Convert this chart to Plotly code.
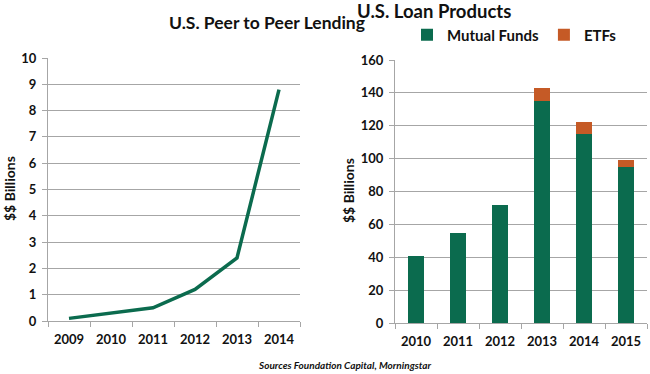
import plotly.graph_objects as go

# Left chart data
p2p_years = ["2009", "2010", "2011", "2012", "2013", "2014"]
p2p_values = [0.1, 0.3, 0.5, 1.2, 2.4, 8.8]

# Right chart data
loan_years = ["2010", "2011", "2012", "2013", "2014", "2015"]
mutual_funds = [41, 55, 72, 135, 115, 95]
etfs = [None, None, None, 8, 7, 4]

GREEN = "#0B6B4E"
ORANGE = "#C55A26"
GRID = "#A6A6A6"
FONT = "Lato"
W, H = 650, 374

def px_x(x):
    return x / W

def px_y(y):
    return 1 - y / H

fig = go.Figure()

fig.add_trace(go.Scatter(
    x=p2p_years, y=p2p_values, mode="lines",
    line=dict(color=GREEN, width=3.5),
    xaxis="x", yaxis="y", showlegend=False,
))

fig.add_trace(go.Bar(
    x=loan_years, y=mutual_funds, name="Mutual Funds",
    marker=dict(color=GREEN, line=dict(width=0)),
    xaxis="x2", yaxis="y2", width=0.4,
))
fig.add_trace(go.Bar(
    x=loan_years, y=etfs, name="ETFs",
    marker=dict(color=ORANGE, line=dict(width=0)),
    xaxis="x2", yaxis="y2", width=0.4,
))

tickfont = dict(family=FONT, size=13, color="#111", weight="bold")

common_x = dict(
    type="category", showgrid=False, showline=True, linecolor=GRID, linewidth=1,
    ticks="outside", tickson="boundaries", ticklen=5, tickcolor=GRID,
    tickfont=tickfont, range=[-0.5, 5.5], fixedrange=True, automargin=False,
    ticklabelstandoff=6,
)
common_y = dict(
    showgrid=True, gridcolor=GRID, gridwidth=1, showline=True, linecolor=GRID,
    linewidth=1, ticks="outside", ticklen=5, tickcolor=GRID, tickfont=tickfont,
    zeroline=False, automargin=False, ticklabelstandoff=3, fixedrange=True,
)

fig.update_layout(
    width=W, height=H, margin=dict(l=0, r=0, t=0, b=0, autoexpand=False),
    paper_bgcolor="white", plot_bgcolor="white",
    barmode="stack",
    font=dict(family=FONT, color="#111"),
    xaxis=dict(domain=[px_x(48), px_x(300)], anchor="y", **common_x),
    yaxis=dict(domain=[px_y(321), px_y(58)], anchor="x", range=[0, 10], dtick=1, **common_y),
    xaxis2=dict(domain=[px_x(395), px_x(647)], anchor="y2", **common_x),
    yaxis2=dict(domain=[px_y(323), px_y(60)], anchor="x2", range=[0, 160], dtick=20, **common_y),
    legend=dict(
        orientation="h", x=px_x(407), y=px_y(35), xanchor="left", yanchor="middle",
        font=dict(family=FONT, size=15, color="#111", weight="bold"),
        traceorder="normal", itemwidth=30, bgcolor="rgba(0,0,0,0)",
    ),
    showlegend=True,
    annotations=[
        dict(text="U.S. Peer to Peer Lending", x=px_x(167), y=px_y(22), xref="paper", yref="paper",
             yanchor="middle", showarrow=False,
             font=dict(family=FONT, size=17.5, weight="bold", color="#111")),
        dict(text="U.S. Loan Products", x=px_x(513), y=px_y(10.5), xref="paper", yref="paper",
             yanchor="middle", showarrow=False,
             font=dict(family=FONT, size=18.5, weight="bold", color="#111")),
        dict(text="$$ Billions", x=px_x(9), y=px_y(189), xref="paper", yref="paper",
             xanchor="center", yanchor="middle",
             textangle=-90, showarrow=False, font=dict(family=FONT, size=14, weight="bold", color="#111")),
        dict(text="$$ Billions", x=px_x(348), y=px_y(191), xref="paper", yref="paper",
             xanchor="center", yanchor="middle",
             textangle=-90, showarrow=False, font=dict(family=FONT, size=14, weight="bold", color="#111")),
        dict(text="Sources Foundation Capital, Morningstar", x=px_x(344), y=px_y(365),
             xref="paper", yref="paper", xanchor="center", yanchor="middle", showarrow=False,
             font=dict(family=FONT, size=10, weight="bold", style="italic", color="#111")),
    ],
)

fig.write_html(
    "out.html",
    config={"displayModeBar": False, "staticPlot": True},
    post_script="document.body.style.margin='0';document.body.style.padding='0';",
)
